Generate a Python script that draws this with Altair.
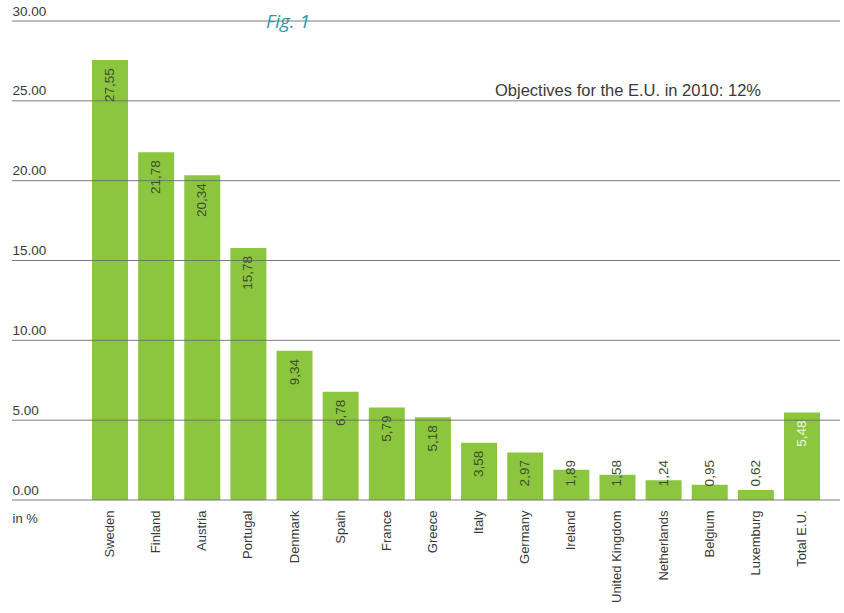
import altair as alt
import pandas as pd

# Share of renewable energy by country (in %)
countries = [
    "Sweden", "Finland", "Austria", "Portugal", "Denmark", "Spain", "France",
    "Greece", "Italy", "Germany", "Ireland", "United Kingdom", "Netherlands",
    "Belgium", "Luxemburg", "Total E.U.",
]
shares = [27.55, 21.78, 20.34, 15.78, 9.34, 6.78, 5.79, 5.18, 3.58, 2.97,
          1.89, 1.58, 1.24, 0.95, 0.62, 5.48]
y_ticks = [0, 5, 10, 15, 20, 25, 30]

objective_text = "Objectives for the E.U. in 2010: 12%"
objective_level = 25
fig_title = "Fig. 1"

df = pd.DataFrame({
    "country": countries,
    "share": shares,
    "label": [f"{v:.2f}".replace(".", ",") for v in shares],
    "total": [c == "Total E.U." for c in countries],
})

FONT = "Liberation Sans"
TEXT = "#3a3a3a"
GREEN = "#8cc63f"
W, H = 828, 479

x_enc = alt.X(
    "country:N", sort=None,
    scale=alt.Scale(range=[80, 808], paddingInner=0.22, paddingOuter=0),
    axis=alt.Axis(
        title="in %", labelAngle=-90, labelAlign="right", labelBaseline="middle",
        ticks=False, domain=False, labelPadding=10, labelFontSize=13,
        labelColor=TEXT, labelFont=FONT,
        titleX=0, titleY=12, titleAlign="left", titleBaseline="top",
        titleFontWeight="normal", titleFontSize=13, titleColor=TEXT, titleFont=FONT,
    ),
)
y_scale = alt.Scale(domain=[0, 30], nice=False)
y_enc = alt.Y(
    "share:Q", scale=y_scale,
    axis=alt.Axis(
        values=y_ticks, format=".2f", title=None, labelAlign="left",
        labelBaseline="bottom", labelPadding=0, tickSize=0, ticks=False,
        domain=False, grid=False, labelOffset=-3, labelFontSize=13.5,
        labelColor=TEXT, labelFont=FONT,
    ),
)

base = alt.Chart(df)

bars = base.mark_bar(color=GREEN).encode(x=x_enc, y=y_enc)

# Horizontal gridlines spanning the full plot width, drawn over the bars
grid = alt.Chart(pd.DataFrame({"tick": y_ticks})).mark_rule(
    color="#6e6e6e", strokeWidth=1, opacity=0.9
).encode(y=alt.Y("tick:Q", scale=y_scale), x=alt.value(0), x2=alt.value(W))

# Value labels, kept inside the plot for the shortest bars
values = base.transform_calculate(
    label_pos="max(datum.share, 3.0)"
).mark_text(
    angle=270, align="right", baseline="middle", dx=-8,
    fontSize=13.5, font=FONT,
).encode(
    x=alt.X("country:N", sort=None),
    y=alt.Y("label_pos:Q"),
    text="label:N",
    color=alt.condition(alt.datum.total, alt.value("#eef7e2"), alt.value("#3c4d2c")),
)

objective = alt.Chart(pd.DataFrame({"t": [objective_text], "v": [objective_level]})).mark_text(
    align="center", baseline="bottom", dy=-2, fontSize=16.5, font=FONT, color=TEXT,
).encode(x=alt.value(616), y=alt.Y("v:Q"), text="t:N")

fig = alt.Chart(pd.DataFrame({"t": [fig_title]})).mark_text(
    align="center", baseline="middle", fontSize=19, font="Open Sans",
    fontStyle="italic", color="#2a9aa6",
).encode(x=alt.value(276), y=alt.value(1), text="t:N")

chart = (
    alt.layer(bars, grid, values, objective, fig)
    .properties(
        width=W, height=H,
        autosize=alt.AutoSizeParams(type="none"),
        padding={"left": 12, "top": 21, "right": 4, "bottom": 113},
        background="white",
    )
    .configure_view(stroke=None)
)

chart.save("out.html", embed_options={"renderer": "svg", "actions": False})
